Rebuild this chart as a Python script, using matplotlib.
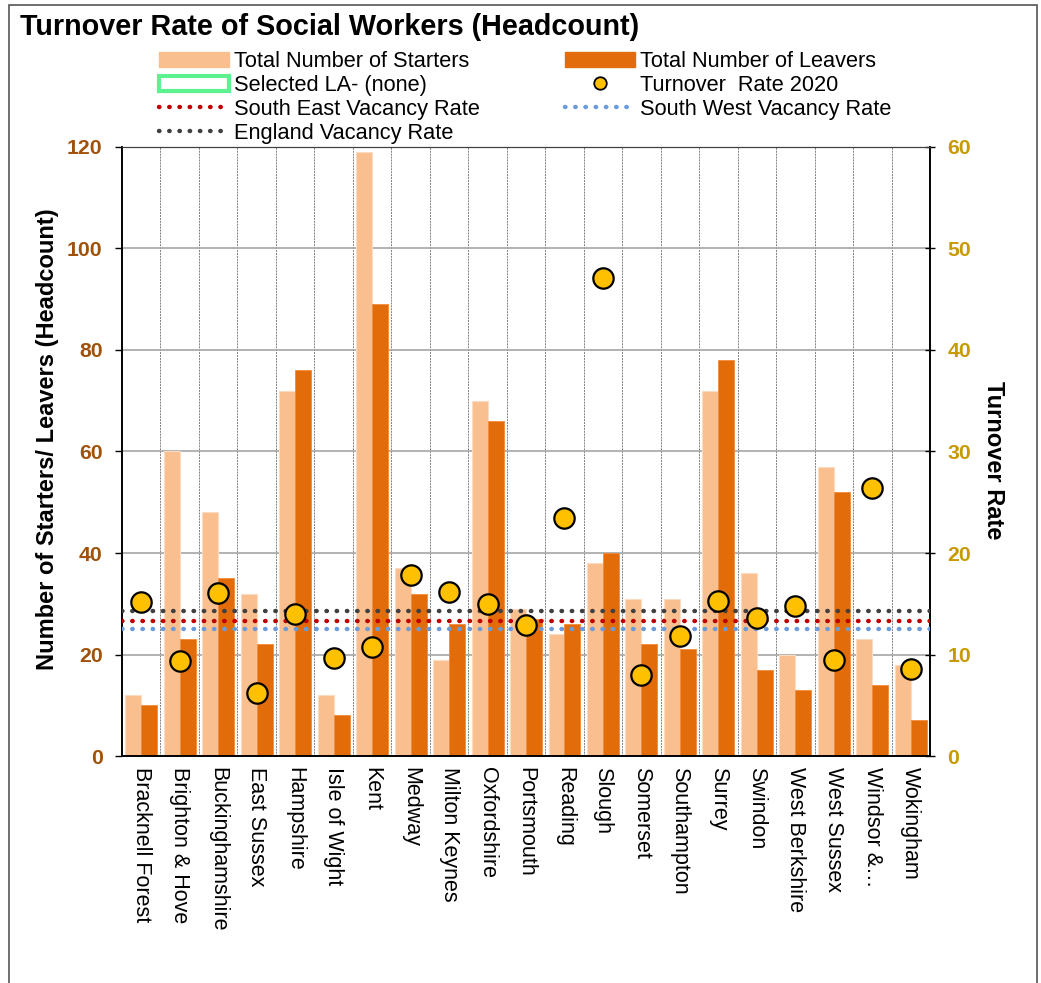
import numpy as np
import matplotlib.pyplot as plt
from matplotlib.patches import Patch, Rectangle
from matplotlib.lines import Line2D

plt.rcParams['font.family'] = ['Liberation Sans', 'DejaVu Sans']

# Data
authorities = ["Bracknell Forest", "Brighton & Hove", "Buckinghamshire", "East Sussex",
               "Hampshire", "Isle of Wight", "Kent", "Medway", "Milton Keynes",
               "Oxfordshire", "Portsmouth", "Reading", "Slough", "Somerset",
               "Southampton", "Surrey", "Swindon", "West Berkshire", "West Sussex",
               "Windsor &\u2026", "Wokingham"]
starters = [12, 60, 48, 32, 72, 12, 119, 37, 19, 70, 29, 24, 38, 31, 31, 72, 36, 20, 57, 23, 18]
leavers = [10, 23, 35, 22, 76, 8, 89, 32, 26, 66, 27, 26, 40, 22, 21, 78, 17, 13, 52, 14, 7]
turnover_2020 = [15.2, 9.4, 16.1, 6.2, 14.0, 9.7, 10.7, 17.8, 16.2, 15.0, 12.9, 23.4, 47.1,
                 8.0, 11.8, 15.3, 13.6, 14.8, 9.5, 26.4, 8.6]
england_rate = 14.3
south_east_rate = 13.3
south_west_rate = 12.5

c_start = "#F9BF8F"
c_leave = "#E36C0A"
c_dot = "#FFC000"
c_left = "#A0520A"
c_right = "#C99A00"
dots = (0, (0.1, 2.2))

fig = plt.figure(figsize=(10.41, 9.83), dpi=100)
ax = fig.add_axes([0.1172, 0.2309, 0.7762, 0.6196])
ax2 = ax.twinx()

x = np.arange(len(authorities))
w = 0.415
ax.bar(x - w / 2, starters, width=w, color=c_start, edgecolor="#FCDCC0", linewidth=0.8, zorder=2)
ax.bar(x + w / 2, leavers, width=w, color=c_leave, edgecolor="#F08A3A", linewidth=0.6, zorder=2)

ax.set_xlim(-0.5, len(authorities) - 0.5)
ax.set_ylim(0, 120)
ax.set_yticks(range(0, 121, 20))
ax.yaxis.grid(True, color="#A6A6A6", linewidth=1.2, zorder=0)
for b in np.arange(0.5, len(authorities) - 0.5, 1):
    ax.axvline(b, color="#808080", linestyle=(0, (2, 1)), linewidth=0.7, zorder=0)
ax.set_axisbelow(True)

ax.set_xticks(x)
ax.set_xticklabels(authorities, rotation=270, fontsize=15.5, color="black")
ax.tick_params(axis="x", length=0, pad=8)
ax.tick_params(axis="y", colors=c_left, labelsize=15.3, length=5, width=1, pad=9)
ax.tick_params(axis="y", color="black")
for t in ax.get_yticklabels():
    t.set_fontweight("bold")
ax.set_ylabel("Number of Starters/ Leavers (Headcount)", fontsize=17, fontweight="bold", labelpad=6)
ax.yaxis.label.set_y(0.521)

# right axis: turnover and vacancy rates
ax2.set_ylim(0, 60)
ax2.set_yticks(range(0, 61, 10))
ax2.tick_params(axis="y", colors=c_right, labelsize=15.3, length=7, width=1, direction="inout", pad=9)
ax2.tick_params(axis="y", color="black")
for t in ax2.get_yticklabels():
    t.set_fontweight("bold")
ax2.set_ylabel("Turnover Rate", fontsize=17, fontweight="bold", rotation=270, va="bottom", labelpad=8)
ax2.yaxis.label.set_y(0.486)

xl = [-0.5, len(authorities) - 0.5]
ax2.plot(xl, [england_rate] * 2, color="#404040", linestyle=dots, dash_capstyle="round", linewidth=3.2, zorder=3)
ax2.plot(xl, [south_east_rate] * 2, color="#C00000", linestyle=dots, dash_capstyle="round", linewidth=3.2, zorder=3)
ax2.plot(xl, [south_west_rate] * 2, color="#6A9BDB", linestyle=dots, dash_capstyle="round", linewidth=3.2, zorder=3)
ax2.scatter(x, turnover_2020, s=215, color=c_dot, edgecolor="black", linewidth=1.6, zorder=4)

for a in (ax, ax2):
    a.spines["left"].set_color("black")
    a.spines["right"].set_color("black")
    a.spines["bottom"].set_color("black")
    a.spines["top"].set_color("#404040")
    a.spines["left"].set_linewidth(1.2)
    a.spines["right"].set_linewidth(1.2)
    a.spines["bottom"].set_linewidth(1.2)

fig.text(0.019, 0.9726, "Turnover Rate of Social Workers (Headcount)", fontsize=20.7,
         fontweight="bold", va="center", ha="left")

handles = [
    Patch(facecolor=c_start, edgecolor=c_start),
    Patch(facecolor="white", edgecolor="#5CF28F", linewidth=3),
    Line2D([], [], color="#C00000", linestyle=dots, dash_capstyle="round", linewidth=3.2),
    Line2D([], [], color="#404040", linestyle=dots, dash_capstyle="round", linewidth=3.2),
    Patch(facecolor=c_leave, edgecolor=c_leave),
    Line2D([], [], marker="o", color="none", markerfacecolor=c_dot, markeredgecolor="black", markersize=9, markeredgewidth=1.3),
    Line2D([], [], color="#6A9BDB", linestyle=dots, dash_capstyle="round", linewidth=3.2),
]
labels = ["Total Number of Starters", "Selected LA- (none)", "South East Vacancy Rate",
          "England Vacancy Rate", "Total Number of Leavers", "Turnover  Rate 2020",
          "South West Vacancy Rate"]
fig.legend(handles, labels, ncol=2, loc="upper left", bbox_to_anchor=(0.142, 0.959),
           frameon=False, fontsize=15.7, handlelength=3.2, handleheight=0.7,
           handletextpad=0.25, columnspacing=3.9, labelspacing=0.13, borderpad=0)

fig.add_artist(Rectangle((0.0088, -0.05), 0.9875, 1.045, transform=fig.transFigure,
                         fill=False, edgecolor="#555555", linewidth=1.2))

fig.savefig("out.png", dpi=100)
